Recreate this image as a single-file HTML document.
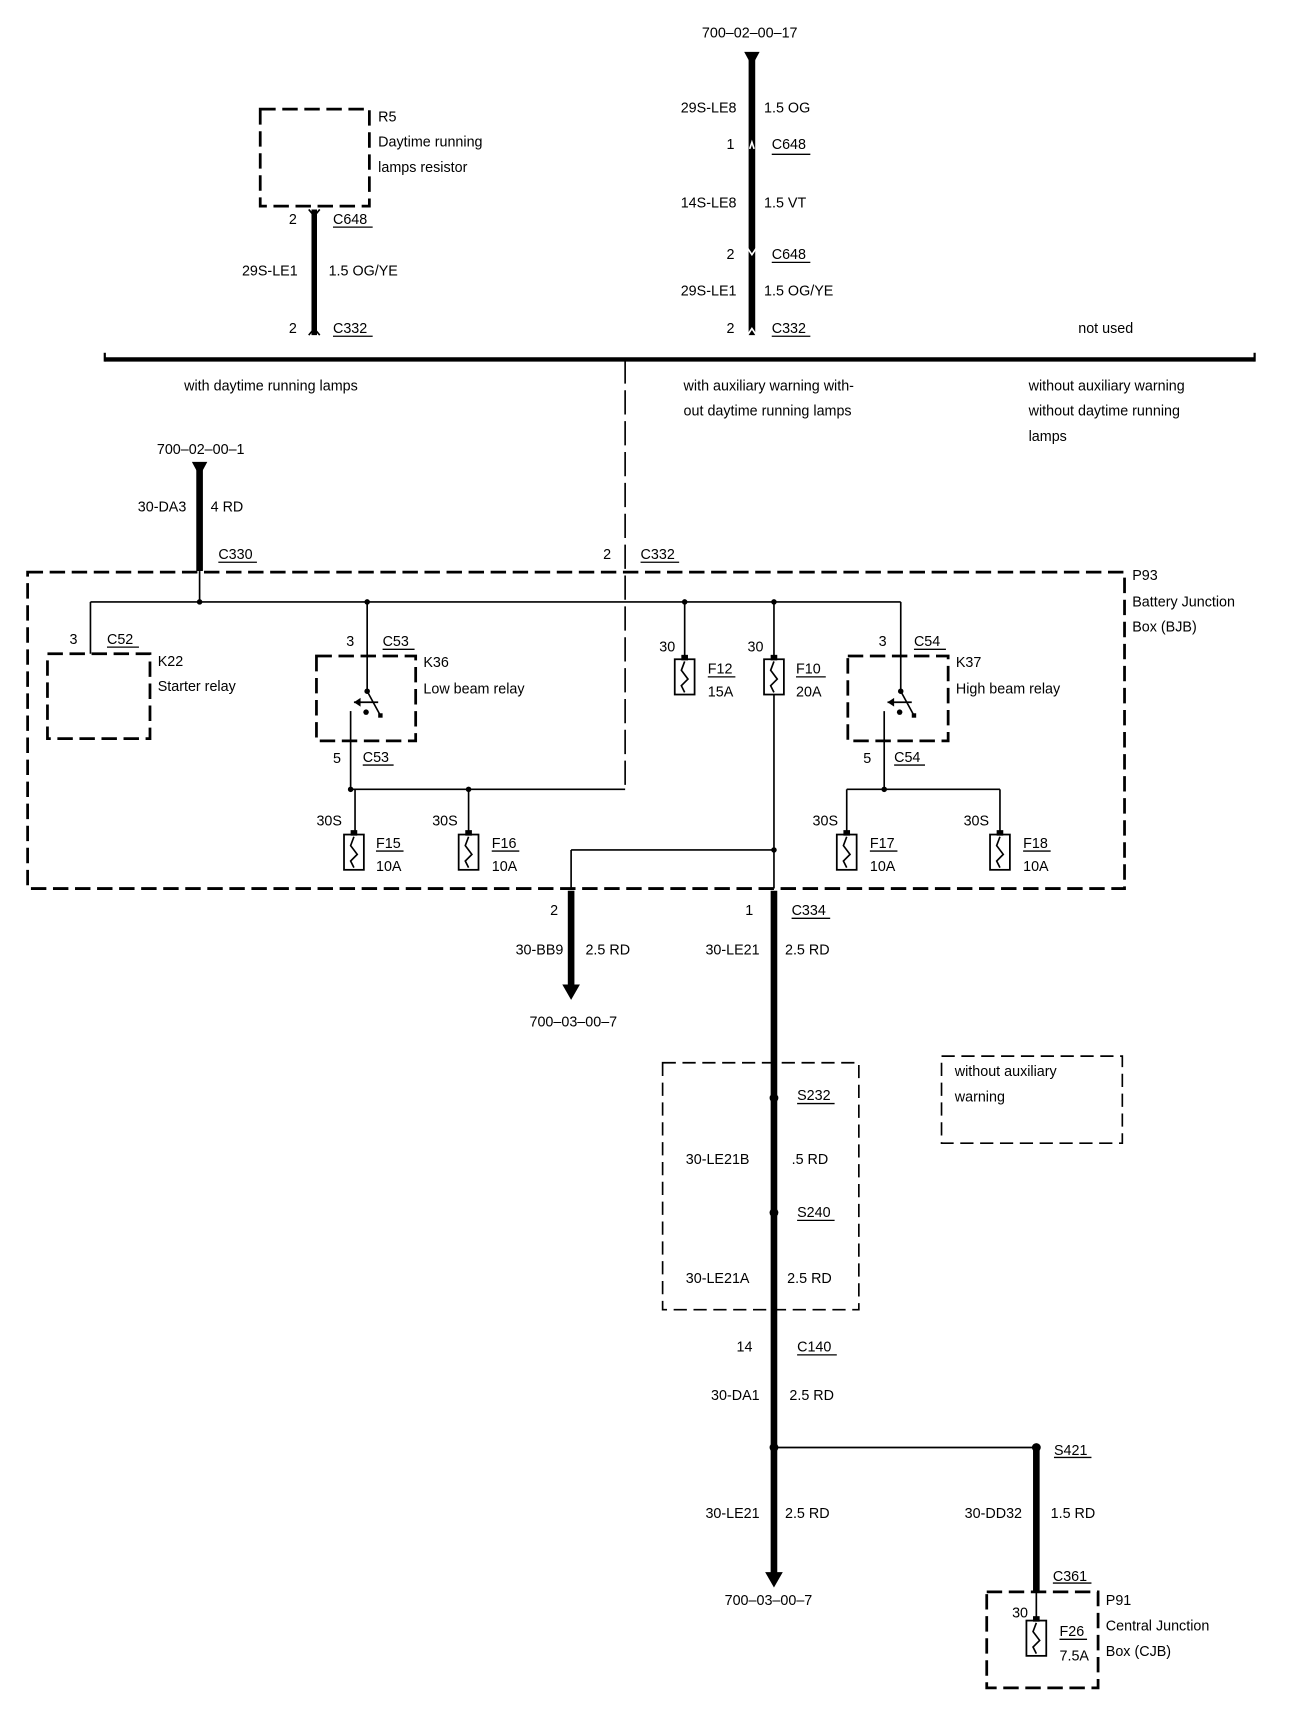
<!DOCTYPE html>
<html><head><meta charset="utf-8"><style>
html,body{margin:0;padding:0;background:#fff;}
svg{display:block}
text{font-family:"Liberation Sans",sans-serif;font-size:13px;fill:#000}
</style></head><body>
<svg width="1312" height="1722" viewBox="0 0 1190 1562" xmlns="http://www.w3.org/2000/svg">
<defs>
<g id="fuse"><rect x="-9" y="0" width="18" height="32" fill="#fff" stroke="#000" stroke-width="1.6"/><path d="M0,2 L-3,10 L3,18 L-3,24 L0,30" fill="none" stroke="#000" stroke-width="1.5"/><rect x="-3" y="-4" width="6" height="5" fill="#000"/></g>
<g id="relay"><path d="M0,-2 L0,30 L12,52" fill="none" stroke="#000" stroke-width="1.5"/><circle cx="0" cy="30" r="2.5"/><rect x="10" y="50" width="4" height="4"/><path d="M-12,40 L10,40" stroke="#000" stroke-width="1.5"/><path d="M-12,40 l6,-4 v8z"/><circle cx="-1" cy="49" r="2.5"/></g>
</defs>
<g fill="none" stroke="#000">
<!-- R5 -->
<rect x="236" y="99" width="99" height="88" stroke-width="2.5" stroke-dasharray="14,6"/>
<line x1="285" y1="190" x2="285" y2="304" stroke-width="5"/>
<path d="M280,190 l5,6 l5,-6 M280,304 l5,-6 l5,6" stroke-width="1.5"/>
<!-- top center -->
<line x1="682" y1="52" x2="682" y2="304" stroke-width="6"/>
<path d="M680,135 l2,-6 l2,6 M678,225 l4,6 l4,-6 M678,304 l4,-6 l4,6" stroke-width="1.5" stroke="#fff"/>
<!-- horizontal bar -->
<line x1="95" y1="326" x2="1138" y2="326" stroke-width="4"/>
<line x1="95" y1="320" x2="95" y2="328" stroke-width="2"/><line x1="1138" y1="320" x2="1138" y2="328" stroke-width="2"/>
<line x1="567" y1="326" x2="567" y2="716" stroke-width="1.5" stroke-dasharray="22,6"/>
<!-- 30-DA3 -->
<line x1="181" y1="425" x2="181" y2="518" stroke-width="6"/>
<!-- P93 box -->
<rect x="25" y="519" width="995" height="287" stroke-width="2.5" stroke-dasharray="14,6"/>
<line x1="181" y1="518" x2="181" y2="546" stroke-width="1.5"/>
<line x1="82" y1="546" x2="817" y2="546" stroke-width="1.5"/>
<!-- K22 -->
<line x1="82" y1="546" x2="82" y2="593" stroke-width="1.5"/>
<rect x="43" y="593" width="93" height="77" stroke-width="2.5" stroke-dasharray="14,6"/>
<!-- K36 -->
<line x1="333" y1="546" x2="333" y2="595" stroke-width="1.5"/>
<rect x="287" y="595" width="90" height="77" stroke-width="2.5" stroke-dasharray="14,6"/>
<line x1="318" y1="645" x2="318" y2="716" stroke-width="1.5"/>
<line x1="318" y1="716" x2="567" y2="716" stroke-width="1.5"/>
<line x1="322" y1="716" x2="322" y2="755" stroke-width="1.5"/>
<line x1="425" y1="716" x2="425" y2="755" stroke-width="1.5"/>
<!-- F12 F10 -->
<line x1="621" y1="546" x2="621" y2="598" stroke-width="1.5"/>
<line x1="702" y1="546" x2="702" y2="598" stroke-width="1.5"/>
<line x1="702" y1="630" x2="702" y2="806" stroke-width="1.5"/>
<line x1="518" y1="771" x2="702" y2="771" stroke-width="1.5"/>
<line x1="518" y1="771" x2="518" y2="806" stroke-width="1.5"/>
<!-- K37 -->
<line x1="817" y1="546" x2="817" y2="595" stroke-width="1.5"/>
<rect x="769" y="595" width="91" height="77" stroke-width="2.5" stroke-dasharray="14,6"/>
<line x1="802" y1="645" x2="802" y2="716" stroke-width="1.5"/>
<line x1="768" y1="716" x2="907" y2="716" stroke-width="1.5"/>
<line x1="768" y1="716" x2="768" y2="755" stroke-width="1.5"/>
<line x1="907" y1="716" x2="907" y2="755" stroke-width="1.5"/>
<!-- outputs -->
<line x1="518" y1="808" x2="518" y2="895" stroke-width="6"/>
<line x1="702" y1="808" x2="702" y2="1428" stroke-width="6"/>
<rect x="601" y="964" width="178" height="224" stroke-width="1.5" stroke-dasharray="12,6"/>
<rect x="854" y="958" width="164" height="79" stroke-width="1.5" stroke-dasharray="12,6"/>
<line x1="702" y1="1313" x2="940" y2="1313" stroke-width="1.5"/>
<line x1="940" y1="1313" x2="940" y2="1444" stroke-width="6"/>
<rect x="895" y="1444" width="101" height="87" stroke-width="2.5" stroke-dasharray="14,6"/>
<line x1="940" y1="1444" x2="940" y2="1470" stroke-width="1.5"/>
</g>
<!-- arrows & dots -->
<path d="M675,47 h14 l-7,13z"/>
<path d="M174,419 h14 l-7,13z"/>
<path d="M510,893 h16 l-8,14z"/>
<path d="M694,1426 h16 l-8,14z"/>
<g>
<circle cx="181" cy="546" r="2.5"/><circle cx="333" cy="546" r="2.5"/><circle cx="621" cy="546" r="2.5"/><circle cx="702" cy="546" r="2.5"/>
<circle cx="425" cy="716" r="2.5"/><circle cx="318" cy="716" r="2.5"/><circle cx="702" cy="771" r="2.5"/><circle cx="802" cy="716" r="2.5"/>
<circle cx="702" cy="996" r="4"/><circle cx="702" cy="1100" r="4"/><circle cx="702" cy="1313" r="4"/><circle cx="940" cy="1313" r="4"/>
</g>
<use href="#relay" x="333" y="597"/>
<use href="#relay" x="817" y="597"/>
<use href="#fuse" x="621" y="598"/><use href="#fuse" x="702" y="598"/>
<use href="#fuse" x="321" y="757"/><use href="#fuse" x="425" y="757"/>
<use href="#fuse" x="768" y="757"/><use href="#fuse" x="907" y="757"/>
<use href="#fuse" x="940" y="1470"/>
<g stroke="#000" stroke-width="1.2">
<line x1="302" y1="206" x2="338" y2="206"/><line x1="302" y1="305" x2="338" y2="305"/>
<line x1="700" y1="140" x2="735" y2="140"/><line x1="700" y1="238" x2="735" y2="238"/><line x1="700" y1="305" x2="735" y2="305"/>
<line x1="198" y1="510" x2="233" y2="510"/><line x1="581" y1="510" x2="616" y2="510"/>
<line x1="97" y1="587" x2="126" y2="587"/><line x1="347" y1="589" x2="376" y2="589"/><line x1="829" y1="589" x2="858" y2="589"/>
<line x1="329" y1="694" x2="357" y2="694"/><line x1="811" y1="694" x2="839" y2="694"/>
<line x1="341" y1="772" x2="366" y2="772"/><line x1="446" y1="772" x2="471" y2="772"/><line x1="642" y1="614" x2="667" y2="614"/><line x1="722" y1="614" x2="749" y2="614"/>
<line x1="789" y1="772" x2="814" y2="772"/><line x1="928" y1="772" x2="953" y2="772"/><line x1="961" y1="1487" x2="986" y2="1487"/>
<line x1="718" y1="833" x2="753" y2="833"/><line x1="723" y1="1001" x2="757" y2="1001"/><line x1="723" y1="1107" x2="757" y2="1107"/><line x1="723" y1="1229" x2="759" y2="1229"/>
<line x1="956" y1="1322" x2="990" y2="1322"/><line x1="955" y1="1436" x2="990" y2="1436"/>
</g>
<g>
<text x="343" y="110">R5</text><text x="343" y="133">Daytime running</text><text x="343" y="156">lamps resistor</text>
<text x="262" y="203">2</text><text x="302" y="203">C648</text>
<text x="270" y="250" text-anchor="end">29S-LE1</text><text x="298" y="250">1.5 OG/YE</text>
<text x="262" y="302">2</text><text x="302" y="302">C332</text>
<text x="680" y="34" text-anchor="middle">700–02–00–17</text>
<text x="668" y="102" text-anchor="end">29S-LE8</text><text x="693" y="102">1.5 OG</text>
<text x="659" y="135">1</text><text x="700" y="135">C648</text>
<text x="668" y="188" text-anchor="end">14S-LE8</text><text x="693" y="188">1.5 VT</text>
<text x="659" y="235">2</text><text x="700" y="235">C648</text>
<text x="668" y="268" text-anchor="end">29S-LE1</text><text x="693" y="268">1.5 OG/YE</text>
<text x="659" y="302">2</text><text x="700" y="302">C332</text>
<text x="978" y="302">not used</text>
<text x="167" y="354">with daytime running lamps</text>
<text x="620" y="354">with auxiliary warning with-</text><text x="620" y="377">out daytime running lamps</text>
<text x="933" y="354">without auxiliary warning</text><text x="933" y="377">without daytime running</text><text x="933" y="400">lamps</text>
<text x="182" y="412" text-anchor="middle">700–02–00–1</text>
<text x="169" y="464" text-anchor="end">30-DA3</text><text x="191" y="464">4 RD</text>
<text x="198" y="507">C330</text><text x="547" y="507">2</text><text x="581" y="507">C332</text>
<text x="1027" y="526">P93</text><text x="1027" y="550">Battery Junction</text><text x="1027" y="573">Box (BJB)</text>
<text x="63" y="584">3</text><text x="97" y="584">C52</text>
<text x="143" y="604">K22</text><text x="143" y="627">Starter relay</text>
<text x="314" y="586">3</text><text x="347" y="586">C53</text>
<text x="384" y="605">K36</text><text x="384" y="629">Low beam relay</text>
<text x="302" y="692">5</text><text x="329" y="691">C53</text>
<text x="287" y="749">30S</text><text x="341" y="769">F15</text><text x="341" y="790">10A</text>
<text x="392" y="749">30S</text><text x="446" y="769">F16</text><text x="446" y="790">10A</text>
<text x="598" y="591">30</text><text x="642" y="611">F12</text><text x="642" y="632">15A</text>
<text x="678" y="591">30</text><text x="722" y="611">F10</text><text x="722" y="632">20A</text>
<text x="797" y="586">3</text><text x="829" y="586">C54</text>
<text x="867" y="605">K37</text><text x="867" y="629">High beam relay</text>
<text x="783" y="692">5</text><text x="811" y="691">C54</text>
<text x="737" y="749">30S</text><text x="789" y="769">F17</text><text x="789" y="790">10A</text>
<text x="874" y="749">30S</text><text x="928" y="769">F18</text><text x="928" y="790">10A</text>
<text x="499" y="830">2</text><text x="676" y="830">1</text><text x="718" y="830">C334</text>
<text x="511" y="866" text-anchor="end">30-BB9</text><text x="531" y="866">2.5 RD</text>
<text x="689" y="866" text-anchor="end">30-LE21</text><text x="712" y="866">2.5 RD</text>
<text x="520" y="931" text-anchor="middle">700–03–00–7</text>
<text x="723" y="998">S232</text><text x="622" y="1056">30-LE21B</text><text x="718" y="1056">.5 RD</text>
<text x="723" y="1104">S240</text><text x="622" y="1164">30-LE21A</text><text x="714" y="1164">2.5 RD</text>
<text x="866" y="976">without auxiliary</text><text x="866" y="999">warning</text>
<text x="668" y="1226">14</text><text x="723" y="1226">C140</text>
<text x="689" y="1270" text-anchor="end">30-DA1</text><text x="716" y="1270">2.5 RD</text>
<text x="956" y="1320">S421</text>
<text x="689" y="1377" text-anchor="end">30-LE21</text><text x="712" y="1377">2.5 RD</text>
<text x="927" y="1377" text-anchor="end">30-DD32</text><text x="953" y="1377">1.5 RD</text>
<text x="955" y="1434">C361</text>
<text x="697" y="1456" text-anchor="middle">700–03–00–7</text>
<text x="1003" y="1456">P91</text><text x="1003" y="1479">Central Junction</text><text x="1003" y="1502">Box (CJB)</text>
<text x="918" y="1467">30</text><text x="961" y="1484">F26</text><text x="961" y="1506">7.5A</text>
</g>
</svg>
</body></html>
